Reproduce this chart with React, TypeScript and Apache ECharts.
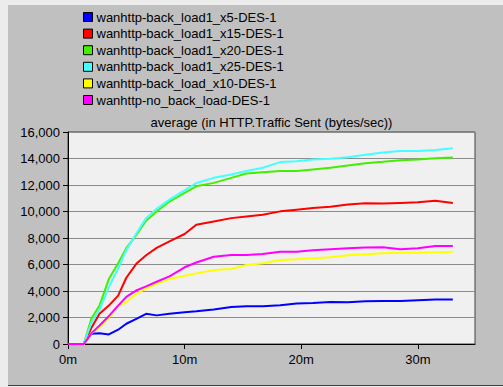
import React, { useEffect, useRef } from "react";
import * as echarts from "echarts";

const minutes = [0, 1.35, 2, 2.7, 3.5, 4.3, 5, 5.9, 6.7, 7.6, 8.7, 10, 11, 12.5, 14, 15.3, 16.7, 18.2, 19.6, 21, 22.5, 24, 25.5, 27, 28.5, 30, 31.5, 33];

const seriesNames = [
  "wanhttp-back_load1_x5-DES-1",
  "wanhttp-back_load1_x15-DES-1",
  "wanhttp-back_load1_x20-DES-1",
  "wanhttp-back_load1_x25-DES-1",
  "wanhttp-back_load_x10-DES-1",
  "wanhttp-no_back_load-DES-1",
];

const seriesColors = ["#0000ff", "#ff0000", "#44ee00", "#44ffff", "#ffff00", "#ff00ff"];

const x5 = [0, 0, 770, 820, 720, 1080, 1530, 1910, 2280, 2160, 2290, 2400, 2470, 2600, 2790, 2850, 2850, 2920, 3050, 3100, 3170, 3150, 3220, 3250, 3250, 3300, 3350, 3360];
const x15 = [0, 0, 1200, 2290, 2900, 3650, 5000, 6100, 6700, 7250, 7750, 8300, 9000, 9250, 9500, 9630, 9760, 10010, 10140, 10270, 10350, 10520, 10620, 10600, 10650, 10690, 10820, 10650];
const x20 = [0, 0, 1910, 2900, 4900, 6090, 7230, 8280, 9300, 10000, 10750, 11400, 11900, 12160, 12540, 12870, 12970, 13050, 13050, 13170, 13300, 13480, 13650, 13750, 13870, 13930, 14010, 14080];
const x25 = [0, 0, 1600, 2600, 4300, 5700, 7100, 8400, 9500, 10200, 10900, 11600, 12150, 12540, 12800, 13050, 13300, 13730, 13800, 13930, 13990, 14100, 14280, 14450, 14560, 14560, 14640, 14770];
const x10 = [0, 0, 800, 1280, 2000, 2850, 3170, 3810, 4190, 4550, 4900, 5150, 5330, 5580, 5660, 5960, 6090, 6340, 6390, 6470, 6540, 6700, 6780, 6850, 6890, 6890, 6920, 6970];
const noLoad = [0, 0, 800, 1400, 2100, 2900, 3550, 4060, 4350, 4700, 5100, 5790, 6150, 6590, 6720, 6720, 6800, 6970, 6970, 7080, 7150, 7220, 7290, 7300, 7150, 7230, 7400, 7400];

const seriesValues = [x5, x15, x20, x25, x10, noLoad];

const xTicks = [0, 10, 20, 30];
const yMax = 16000;
const yInterval = 2000;
const xMax = 34.9;
const chartTitle = "average (in HTTP.Traffic Sent (bytes/sec))";

export default function App() {
  const ref = useRef<HTMLDivElement>(null);
  useEffect(() => {
    if (!ref.current) return;
    const chart = echarts.init(ref.current, undefined, { renderer: "svg" });
    const font = "Liberation Sans, Arial, sans-serif";
    chart.setOption({
      animation: false,
      backgroundColor: "#ececec",
      textStyle: { fontFamily: font },
      graphic: [
        {
          type: "rect",
          z: -10,
          silent: true,
          shape: { x: 8, y: 5, width: 495, height: 380 },
          style: { fill: "#c0c0c0" },
        },
        {
          type: "line",
          z: -9,
          silent: true,
          shape: { x1: 8, y1: 385.5, x2: 503, y2: 385.5 },
          style: { stroke: "#404040", lineWidth: 1 },
        },
        {
          type: "text",
          silent: true,
          x: 271.5,
          y: 122,
          style: {
            text: chartTitle,
            fill: "#000",
            font: "13px " + font,
            align: "center",
            verticalAlign: "middle",
          },
        },
      ],
      legend: {
        orient: "vertical",
        left: 83,
        top: 10.5,
        padding: 0,
        icon: "rect",
        itemWidth: 9,
        itemHeight: 9,
        itemGap: 3.6,
        itemStyle: { borderColor: "#000", borderWidth: 1 },
        textStyle: { fontSize: 13, color: "#000", fontFamily: font, padding: [0, 0, 0, -1] },
        data: seriesNames,
      },
      grid: {
        left: 68,
        right: 28,
        top: 132,
        bottom: 43,
        show: true,
        backgroundColor: "#f0f0f0",
        borderColor: "#404040",
        borderWidth: 1,
      },
      xAxis: {
        type: "value",
        min: 0,
        max: xMax,
        interval: 10,
        axisLine: { lineStyle: { color: "#000", width: 1 } },
        axisTick: { show: true, length: 5, lineStyle: { color: "#000" }, customValues: xTicks },
        axisLabel: {
          color: "#000",
          fontSize: 13,
          margin: 8.5,
          customValues: xTicks,
          formatter: (v: number) => `${v}m`,
        },
        splitLine: { show: false },
      },
      yAxis: {
        type: "value",
        min: 0,
        max: yMax,
        interval: yInterval,
        axisLine: { show: true, lineStyle: { color: "#000", width: 1 } },
        axisTick: { show: true, length: 5, lineStyle: { color: "#000" } },
        axisLabel: {
          color: "#000",
          fontSize: 13,
          margin: 8,
          formatter: (v: number) => v.toLocaleString("en-US"),
        },
        splitLine: { show: true, lineStyle: { color: "#8c8c8c", width: 1 } },
      },
      series: seriesNames.map((name, i) => ({
        name,
        type: "line",
        showSymbol: false,
        symbol: "none",
        color: seriesColors[i],
        lineStyle: { width: 2, color: seriesColors[i] },
        itemStyle: { color: seriesColors[i] },
        data: minutes.map((m, j) => [m, seriesValues[i][j]]),
      })),
    });
    return () => chart.dispose();
  }, []);
  return (
    <div
      ref={ref}
      style={{ position: "fixed", left: 0, top: 0, width: 503, height: 387 }}
    />
  );
}
